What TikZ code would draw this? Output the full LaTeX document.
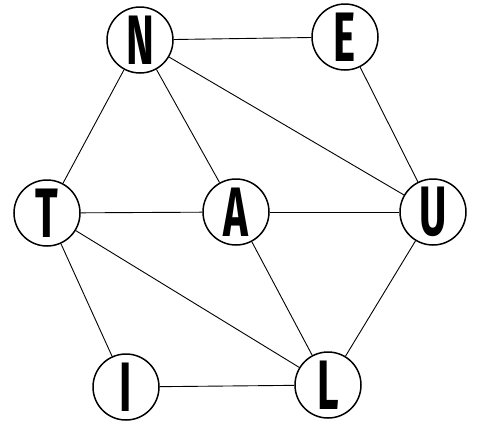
\documentclass[tikz,border=0pt]{standalone}
\usepackage{fontspec}
\setmainfont{Fira Sans}
\begin{document}
\begin{tikzpicture}[x=1pt,y=-1pt,
  letter/.style={circle,draw,line width=1.5pt,minimum size=66pt,inner sep=0pt,fill=white,
    font=\fontsize{70}{70}\selectfont\bfseries},
  link/.style={line width=0.9pt}]
\useasboundingbox (0,0) rectangle (481,426);
\node[letter] (N) at (140,40) {\scalebox{0.6}[1]{N}};
\node[letter] (E) at (345,37) {\scalebox{0.6}[1]{E}};
\node[letter] (T) at (47,213) {\scalebox{0.6}[1]{T}};
\node[letter] (A) at (236,212) {\scalebox{0.6}[1]{A}};
\node[letter] (U) at (433,212) {\scalebox{0.6}[1]{U}};
\node[letter] (I) at (126,387) {\scalebox{0.6}[1]{I}};
\node[letter] (L) at (328,385) {\scalebox{0.6}[1]{L}};
\draw[link] (N) -- (E);
\draw[link] (N) -- (T);
\draw[link] (N) -- (A);
\draw[link] (N) -- (U);
\draw[link] (E) -- (U);
\draw[link] (T) -- (A);
\draw[link] (A) -- (U);
\draw[link] (T) -- (I);
\draw[link] (T) -- (L);
\draw[link] (A) -- (L);
\draw[link] (U) -- (L);
\draw[link] (I) -- (L);
\end{tikzpicture}
\end{document}
